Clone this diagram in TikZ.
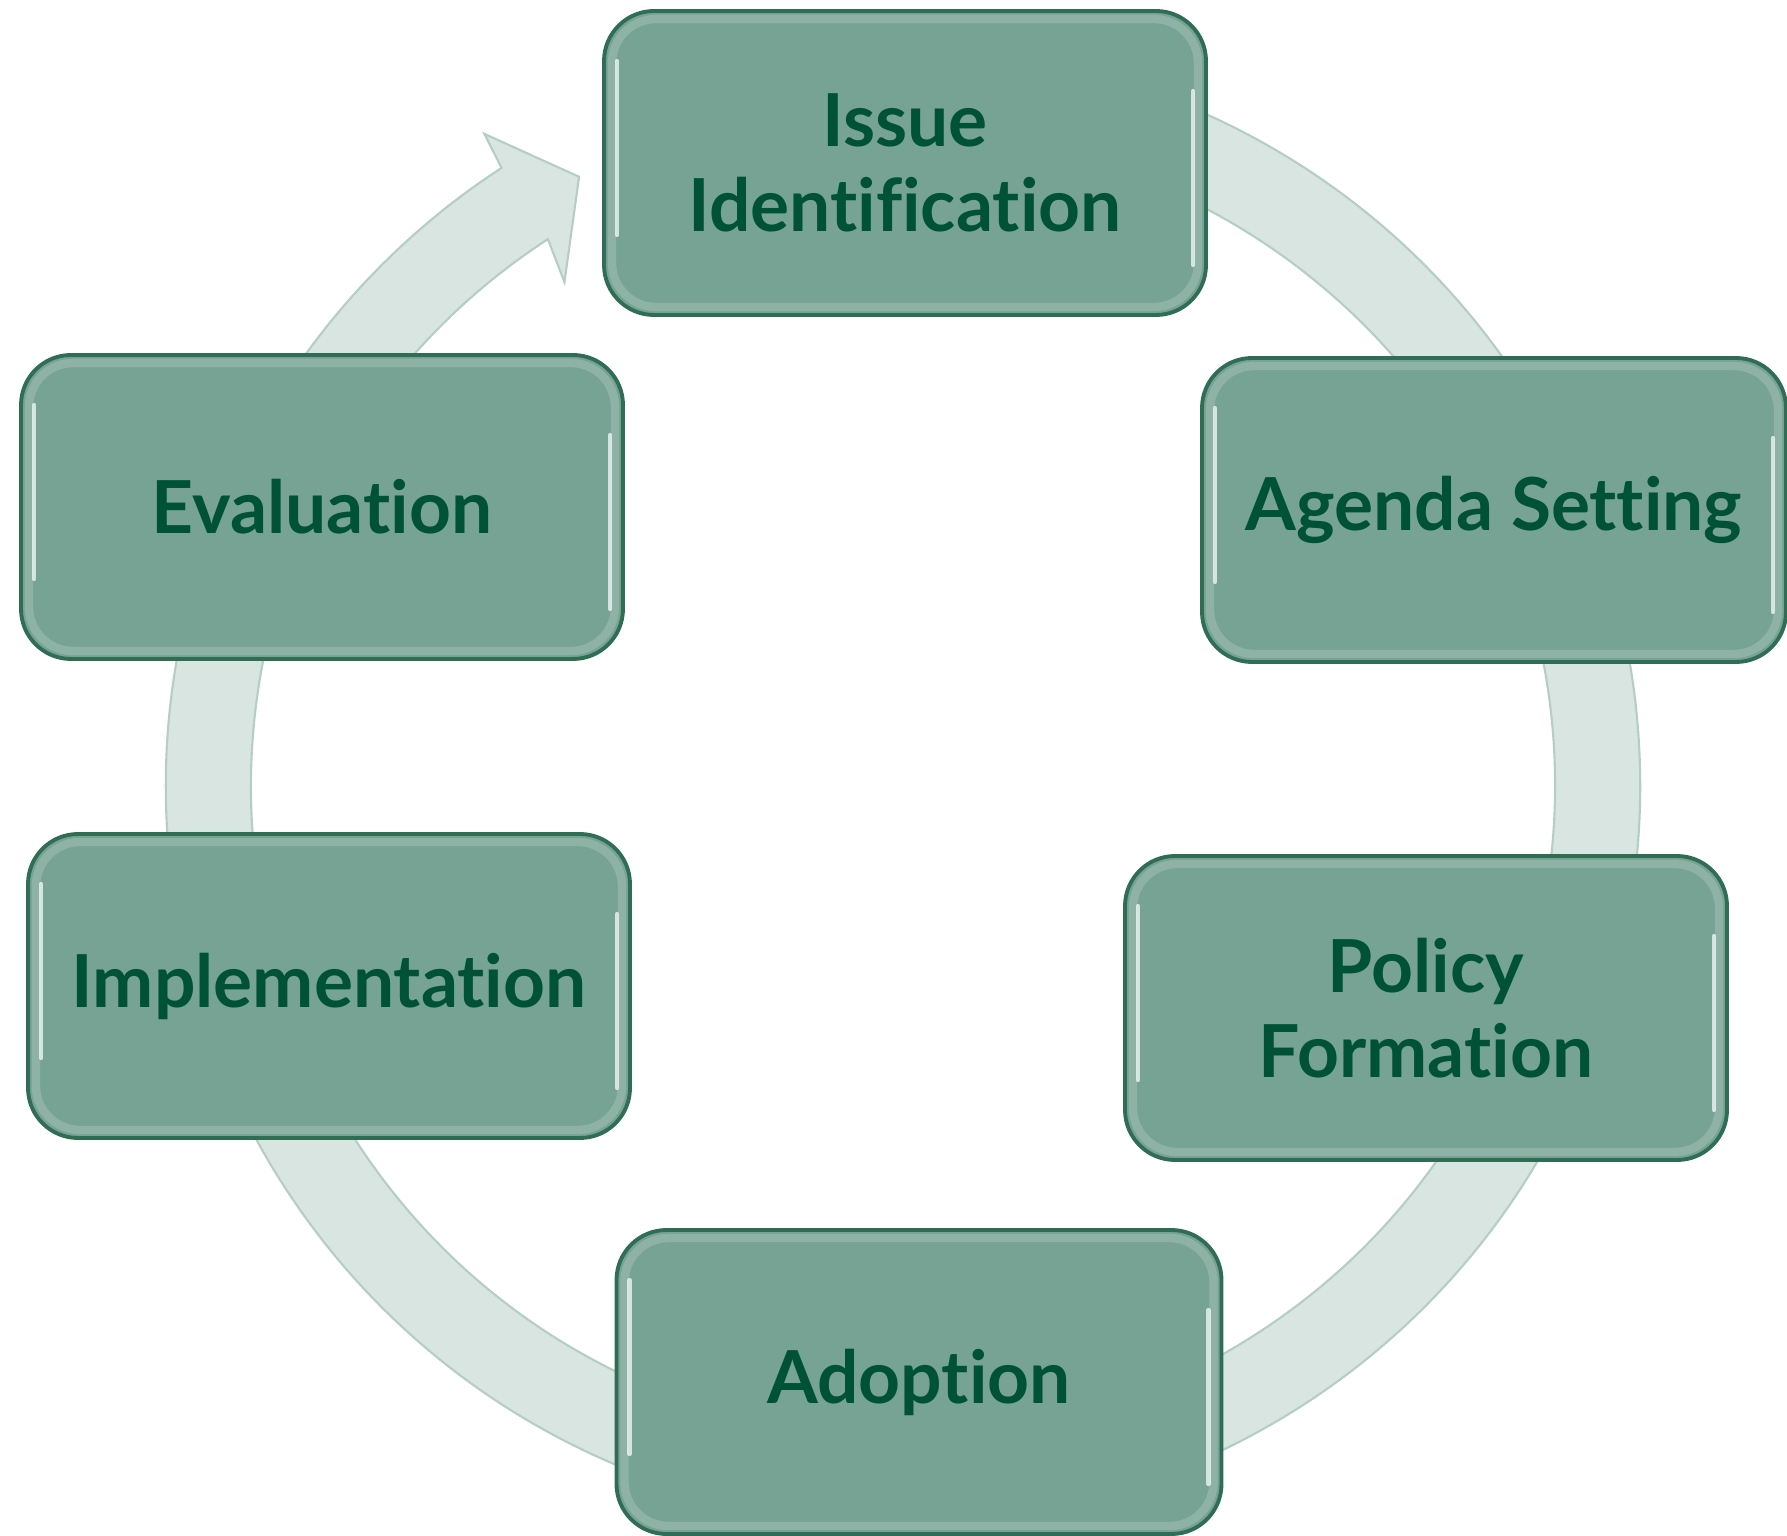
\documentclass[tikz,border=0pt]{standalone}
\usepackage{fontspec}
\setmainfont{Lato}[Ligatures=NoCommon]
\usepackage{tikz}

\definecolor{boxfill}{HTML}{76A393}
\definecolor{boxline}{HTML}{2F6E55}
\definecolor{boxtext}{HTML}{005236}
\definecolor{ringfill}{HTML}{D8E5E0}
\definecolor{ringline}{HTML}{B5CEC4}

\tikzset{
  stage/.style={draw=boxline, line width=1.1pt, fill=boxfill,
    rounded corners=0.5cm, minimum width=6.02cm, minimum height=3.04cm,
    inner sep=0pt, align=center, text=boxtext,
    font=\bfseries\fontsize{20.8}{24}\selectfont,
    path picture={
      \draw[white, opacity=0.18, line width=2.4pt, rounded corners=0.44cm]
        ([shift={(0.08,0.08)}]path picture bounding box.south west) rectangle
        ([shift={(-0.08,-0.08)}]path picture bounding box.north east);
      \draw[white, opacity=0.7, line width=1.2pt, line cap=round]
        ([shift={(0.13,-0.5)}]path picture bounding box.north west) --
        ([shift={(0.13,0.8)}]path picture bounding box.south west);
      \draw[white, opacity=0.7, line width=1.2pt, line cap=round]
        ([shift={(-0.13,-0.8)}]path picture bounding box.north east) --
        ([shift={(-0.13,0.5)}]path picture bounding box.south east);
    }}
}

\begin{document}
\begin{tikzpicture}

  \useasboundingbox (0,0) rectangle (17.87,15.35);

  % Circular arrow behind the stages
  \begin{scope}[shift={(9.03,7.49)}]
    \filldraw[fill=ringfill, draw=ringline, line width=0.6pt]
      (70:7.37) arc[start angle=70, end angle=-237, radius=7.37]
      -- (-237.3:7.75) -- (-242:6.90) -- (-236.1:6.07)
      -- (-237:6.52) arc[start angle=-237, end angle=70, radius=6.52]
      -- cycle;
  \end{scope}

  % Stages of the cycle
  \node[stage] (issue) at (9.05,13.72) {Issue\\Identification};
  \node[stage, minimum width=5.84cm] (agenda) at (14.94,10.25) {Agenda Setting};
  \node[stage] (policy) at (14.26,5.27) {Policy\\Formation};
  \node[stage, minimum width=6.05cm] (adoption) at (9.19,1.53) {Adoption};
  \node[stage] (implement) at (3.29,5.49) {Implementation};
  \node[stage] (evaluation) at (3.22,10.28) {Evaluation};

\end{tikzpicture}
\end{document}
